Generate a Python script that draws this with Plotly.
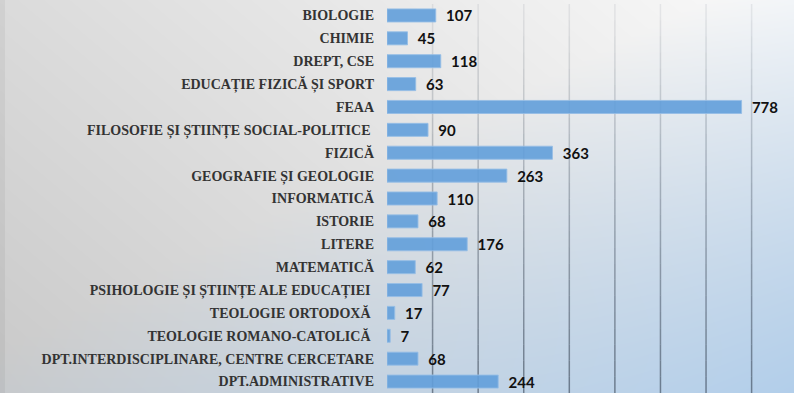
import base64
import struct
import zlib

import numpy as np
import plotly.graph_objects as go

# Staff numbers per faculty / department
categories = [
    "BIOLOGIE",
    "CHIMIE",
    "DREPT, CSE",
    "EDUCAȚIE FIZICĂ ȘI SPORT",
    "FEAA",
    "FILOSOFIE ȘI ȘTIINȚE SOCIAL-POLITICE\u00a0",
    "FIZICĂ",
    "GEOGRAFIE ȘI GEOLOGIE",
    "INFORMATICĂ",
    "ISTORIE",
    "LITERE",
    "MATEMATICĂ",
    "PSIHOLOGIE ȘI ȘTIINȚE ALE EDUCAȚIEI\u00a0",
    "TEOLOGIE ORTODOXĂ\u00a0",
    "TEOLOGIE ROMANO-CATOLICĂ\u00a0",
    "DPT.INTERDISCIPLINARE, CENTRE CERCETARE",
    "DPT.ADMINISTRATIVE",
]
values = [107, 45, 118, 63, 778, 90, 363, 263, 110, 68, 176, 62, 77, 17, 7, 68, 244]
grid_ticks = [100, 200, 300, 400, 500, 600, 700, 800]

W, H = 794, 393
L, T = 387, 4


def gradient_png(w, h):
    """Soft gray-to-light-blue backdrop encoded as a PNG data URI."""
    xs = np.linspace(0, 1, w)[None, :]
    ys = np.linspace(0, 1, h)[:, None]
    gray = 0.86 + 0.12 * xs - 0.07 * ys
    gray = gray - 0.04 * (xs < 5 / w)
    t = np.clip(0.9 * xs + 0.9 * ys - 0.8, 0, 1)
    blue = np.array([0.70, 0.81, 0.92])
    img = gray[..., None] * (1 - t[..., None]) + blue * t[..., None]
    img = (np.clip(img, 0, 1) * 255).astype(np.uint8)
    raw = b"".join(b"\x00" + img[r].tobytes() for r in range(h))

    def chunk(tag, data):
        c = tag + data
        return struct.pack(">I", len(data)) + c + struct.pack(">I", zlib.crc32(c) & 0xFFFFFFFF)

    png = b"\x89PNG\r\n\x1a\n"
    png += chunk(b"IHDR", struct.pack(">IIBBBBB", w, h, 8, 2, 0, 0, 0))
    png += chunk(b"IDAT", zlib.compress(raw, 9))
    png += chunk(b"IEND", b"")
    return "data:image/png;base64," + base64.b64encode(png).decode()


fig = go.Figure(
    go.Bar(
        x=values,
        y=categories,
        orientation="h",
        marker=dict(color="rgba(98,158,218,0.9)", line=dict(color="rgba(150,190,230,0.9)", width=1)),
        text=values,
        texttemplate="\u00a0\u00a0%{text}",
        textposition="outside",
        constraintext="none",
        cliponaxis=False,
        textfont=dict(family="Lato", size=15, color="#111111", weight="bold"),
        hoverinfo="skip",
    )
)

# vertical gridlines that darken toward the bottom
n_seg = 24
shapes = []
for v in grid_ticks:
    for i in range(n_seg):
        y_top = 1 - i / n_seg
        y_bot = 1 - (i + 1) / n_seg
        alpha = 0.08 + 0.55 * (i + 0.5) / n_seg
        shapes.append(dict(
            type="line", xref="x", yref="paper", x0=v, x1=v, y0=y_bot, y1=y_top,
            line=dict(color=f"rgba(60,72,88,{alpha:.3f})", width=1.5), layer="below",
        ))

pw, ph = W - L, H - T
fig.update_layout(
    width=W,
    height=H,
    margin=dict(l=L, r=0, t=T, b=0),
    paper_bgcolor="rgba(0,0,0,0)",
    plot_bgcolor="rgba(0,0,0,0)",
    bargap=0.43,
    showlegend=False,
    shapes=shapes,
    images=[dict(
        source=gradient_png(W, H), xref="paper", yref="paper",
        x=-L / pw, y=1 + T / ph, sizex=W / pw, sizey=H / ph,
        xanchor="left", yanchor="top", sizing="stretch", layer="below",
    )],
    xaxis=dict(range=[0, 893], showgrid=False, showticklabels=False, zeroline=False, showline=False, ticks=""),
    yaxis=dict(
        autorange="reversed",
        showgrid=False,
        zeroline=False,
        showline=False,
        ticks="",
        ticklabelstandoff=12,
        tickfont=dict(family="Liberation Serif", size=14, color="#333333", weight="bold"),
    ),
)

fig.write_html("out.html")
